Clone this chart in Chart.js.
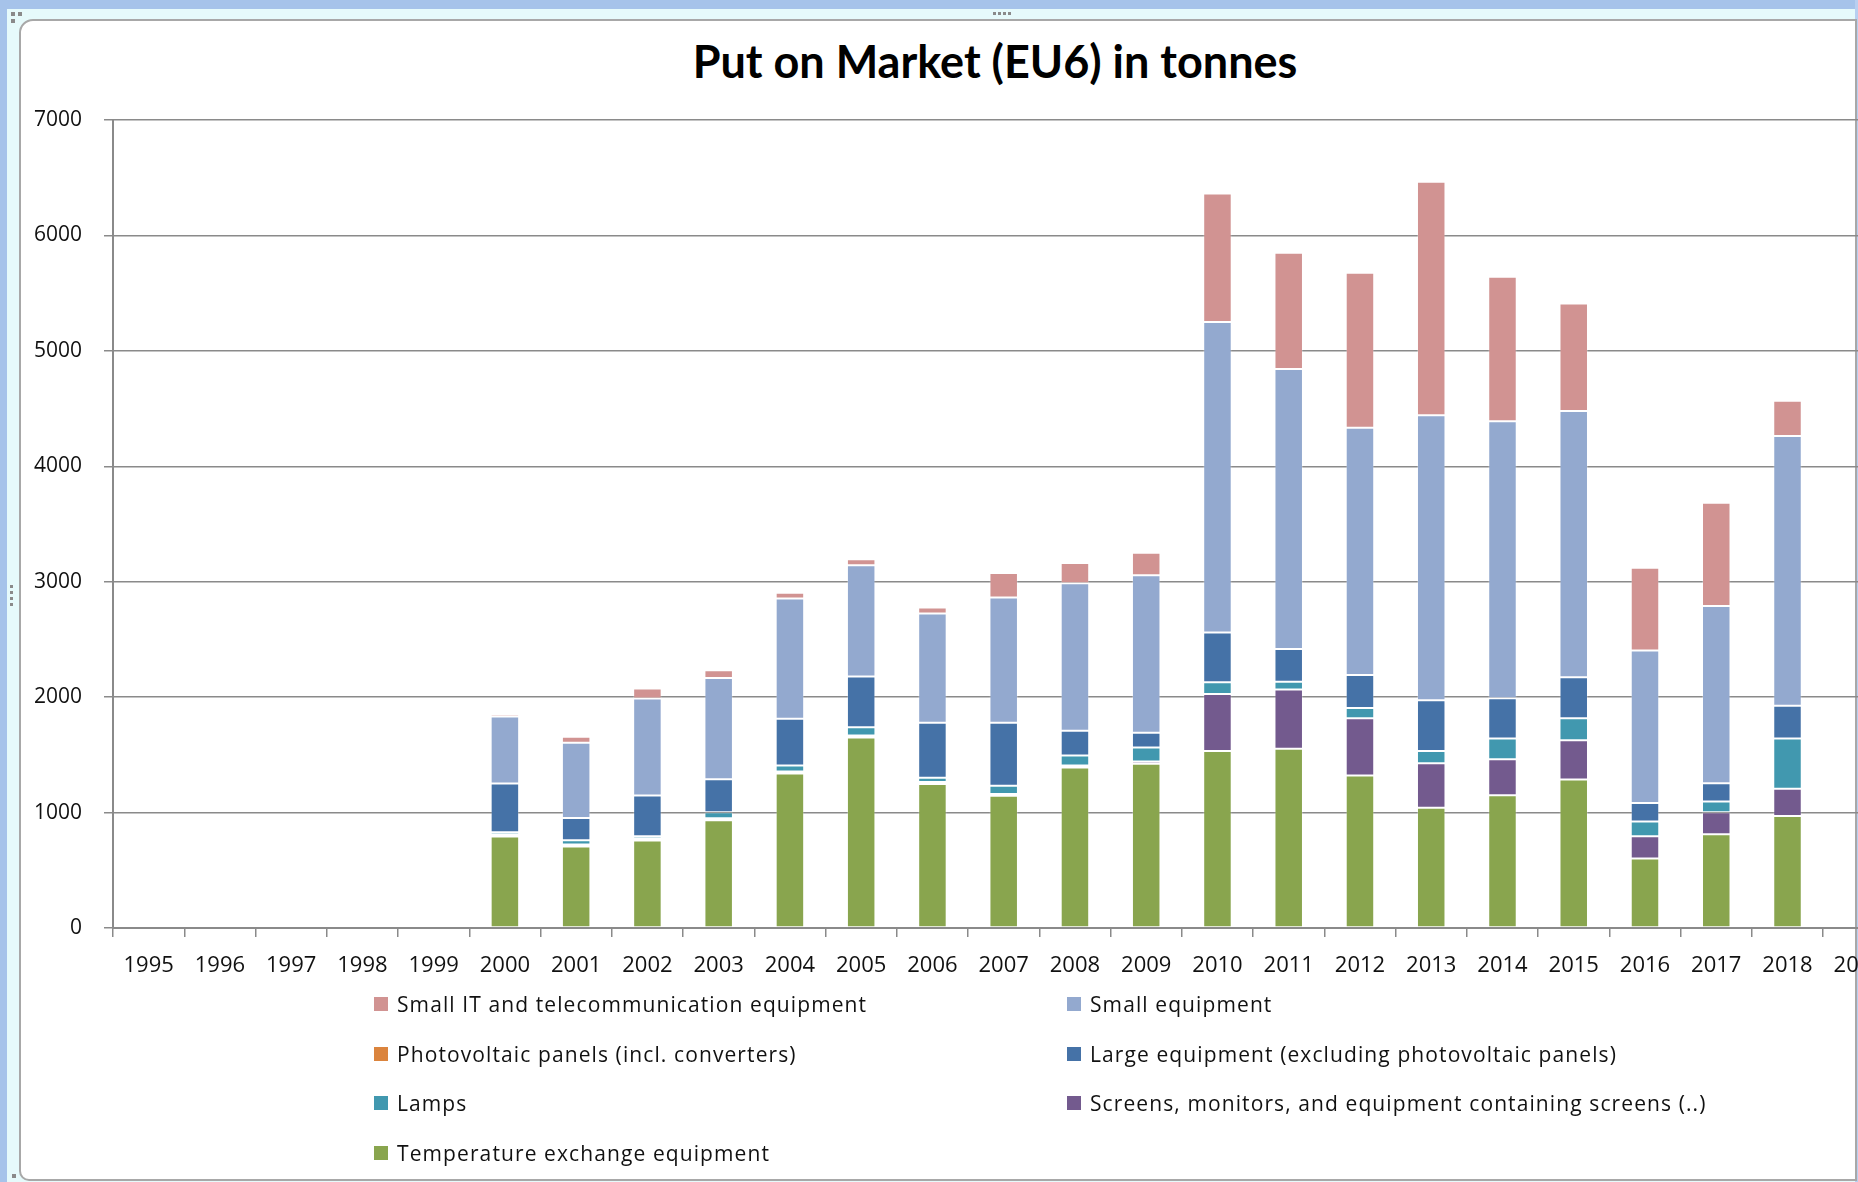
<!DOCTYPE html>
<html>
<head>
<meta charset="utf-8">
<title>Put on Market (EU6) in tonnes</title>
<script src="https://cdn.jsdelivr.net/npm/chart.js@4.4.1/dist/chart.umd.min.js"></script>
<style>
  html, body { margin: 0; padding: 0; }
  body { width: 1858px; height: 1182px; overflow: hidden; position: relative; background: #fff; }
  .blue-top { position: absolute; left: 0; top: 0; width: 1858px; height: 9px; background: #a6c3ea; }
  .blue-left { position: absolute; left: 0; top: 0; width: 7px; height: 1182px; background: #a6c3ea; }
  .blue-right { position: absolute; left: 1855px; top: 0; width: 3px; height: 1182px; background: #b8cff0; }
  .pale { position: absolute; left: 7px; top: 9px; width: 1848px; height: 1173px; background: #e6fafb; }
  .frame { position: absolute; left: 19px; top: 19px; width: 1834px; height: 1158px; background: #fff;
           border: 2px solid #a8a8a8; border-top-left-radius: 14px; border-bottom-left-radius: 10px; }
  .dot { position: absolute; width: 4px; height: 4px; background: #8a8a8a; }
  #title { position: absolute; left: 0; width: 1990px; top: 36px; text-align: center;
           font: bold 45px Lato, sans-serif; line-height: 50px; color: #000; }
  #wrap { position: absolute; left: 20px; top: 20px; width: 1880px; height: 1000px; }
  #legend { position: absolute; left: 374px; top: 992px; display: grid;
            grid-template-columns: 693px 693px; grid-auto-rows: 49.5px; }
  .item { display: flex; align-items: center; height: 24px; font: 21px "Open Sans", sans-serif;
          letter-spacing: 1.1px; color: #111; }
  .box { width: 14px; height: 14px; margin-right: 9px; flex: none; }
</style>
</head>
<body>
<div class="pale"></div>
<div class="blue-top"></div>
<div class="blue-left"></div>
<div class="blue-right"></div>
<div class="frame"></div>
<div class="dot" style="left:11px;top:12px"></div>
<div class="dot" style="left:18px;top:12px"></div>
<div class="dot" style="left:11px;top:19px"></div>
<div class="dot" style="left:993px;top:12px;width:3px;height:3px"></div>
<div class="dot" style="left:998px;top:12px;width:3px;height:3px"></div>
<div class="dot" style="left:1003px;top:12px;width:3px;height:3px"></div>
<div class="dot" style="left:1008px;top:12px;width:3px;height:3px"></div>
<div class="dot" style="left:10px;top:585px;width:3px;height:3px"></div>
<div class="dot" style="left:10px;top:591px;width:3px;height:3px"></div>
<div class="dot" style="left:10px;top:597px;width:3px;height:3px"></div>
<div class="dot" style="left:10px;top:603px;width:3px;height:3px"></div>
<div class="dot" style="left:12px;top:1174px"></div>
<div id="title">Put on Market (EU6) in tonnes</div>
<div id="wrap"><canvas id="chart"></canvas></div>
<div id="legend"></div>
<script>
// years on the category axis
const years = ['1995', '1996', '1997', '1998', '1999', '2000', '2001', '2002', '2003', '2004', '2005', '2006',
  '2007', '2008', '2009', '2010', '2011', '2012', '2013', '2014', '2015', '2016', '2017', '2018', '2019'];

// series in tonnes, bottom of the stack first
const temperature = [0, 0, 0, 0, 0, 792, 705, 757, 934, 1338, 1651, 1247, 1146, 1391, 1423, 1534, 1552, 1322, 1042, 1149, 1286, 603, 812, 971, 0];
const screens     = [0, 0, 0, 0, 0, 17, 18, 18, 17, 17, 17, 17, 14, 17, 20, 493, 515, 496, 386, 314, 341, 191, 190, 235, 0];
const lamps       = [0, 0, 0, 0, 0, 20, 37, 20, 52, 53, 72, 38, 72, 87, 121, 102, 66, 89, 106, 178, 191, 128, 93, 435, 0];
const large       = [0, 0, 0, 0, 0, 422, 194, 352, 286, 404, 439, 476, 546, 213, 127, 430, 284, 284, 439, 350, 355, 160, 160, 284, 0];
const photovoltaic = [0, 0, 0, 0, 0, 0, 0, 0, 0, 0, 0, 0, 0, 0, 0, 0, 0, 0, 0, 0, 0, 0, 0, 0, 0];
const small       = [0, 0, 0, 0, 0, 581, 650, 841, 876, 1042, 964, 946, 1085, 1279, 1365, 2692, 2426, 2142, 2470, 2399, 2306, 1322, 1534, 2337, 0];
const smallIT     = [0, 0, 0, 0, 0, 20, 52, 87, 69, 51, 52, 52, 213, 176, 194, 1113, 1006, 1343, 2023, 1251, 931, 718, 896, 306, 0];

const yTicks = [0, 1000, 2000, 3000, 4000, 5000, 6000, 7000];

const series = [
  { label: 'Temperature exchange equipment', data: temperature, color: '#89a54e' },
  { label: 'Screens, monitors, and equipment containing screens (..)', data: screens, color: '#735a8e' },
  { label: 'Lamps', data: lamps, color: '#4198af' },
  { label: 'Large equipment (excluding photovoltaic panels)', data: large, color: '#4572a7' },
  { label: 'Photovoltaic panels (incl. converters)', data: photovoltaic, color: '#db843d' },
  { label: 'Small equipment', data: small, color: '#93a9cf' },
  { label: 'Small IT and telecommunication equipment', data: smallIT, color: '#d19392' }
];

const gridGray = '#8a8a8a';

const chart = new Chart(document.getElementById('chart'), {
  type: 'bar',
  data: {
    labels: years,
    datasets: series.map(s => ({
      label: s.label,
      data: s.data,
      backgroundColor: s.color,
      borderColor: 'rgba(255,255,255,0.25)',
      borderWidth: 1,
      borderSkipped: false,
      categoryPercentage: 1,
      barPercentage: 0.4
    }))
  },
  options: {
    responsive: true,
    maintainAspectRatio: false,
    animation: false,
    layout: { padding: { top: 100, bottom: 32, left: 0, right: 4 } },
    plugins: {
      legend: { display: false },
      title: { display: false },
      tooltip: { enabled: false }
    },
    scales: {
      x: {
        stacked: true,
        afterFit: scale => { scale.height = 60; },
        grid: { display: true, drawOnChartArea: false, drawTicks: true, tickLength: 9, color: gridGray, lineWidth: 1.5, offset: true },
        border: { display: true, color: gridGray, width: 2 },
        ticks: { autoSkip: false, maxRotation: 0, minRotation: 0, padding: 16, color: '#111',
                 font: { family: '"Open Sans", sans-serif', size: 22 } }
      },
      y: {
        stacked: true,
        min: 0,
        max: 7000,
        afterFit: scale => { scale.width = 93; },
        afterBuildTicks: scale => { scale.ticks = yTicks.map(v => ({ value: v })); },
        grid: { color: gridGray, lineWidth: 1.5, tickLength: 9, drawTicks: true },
        border: { display: true, color: gridGray, width: 2 },
        ticks: { padding: 22, color: '#111', callback: v => String(v),
                 font: { family: '"Open Sans", sans-serif', size: 21 } }
      }
    }
  }
});

// legend in two columns, top of the stack first
const legend = document.getElementById('legend');
series.slice().reverse().forEach(s => {
  const item = document.createElement('div');
  item.className = 'item';
  const box = document.createElement('span');
  box.className = 'box';
  box.style.background = s.color;
  const text = document.createElement('span');
  text.textContent = s.label;
  item.appendChild(box);
  item.appendChild(text);
  legend.appendChild(item);
});
</script>
</body>
</html>
